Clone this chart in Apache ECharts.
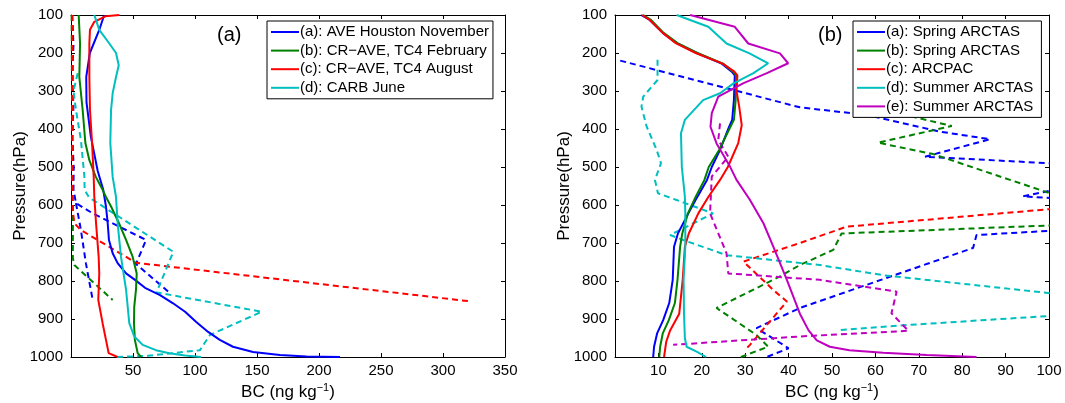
<!DOCTYPE html>
<html>
<head>
<meta charset="utf-8">
<script src="https://cdn.jsdelivr.net/npm/echarts@6/dist/echarts.min.js"></script>
<style>
  html, body { margin: 0; padding: 0; background: #fff; }
  #chart { width: 1065px; height: 403px; }
</style>
</head>
<body>
<div id="chart"></div>
<script>
// ---- Panel (a): observed profiles [BC, pressure] ----
const aAveHouston = [[26.8,100],[22.7,140],[15.2,200],[12.3,263],[12.5,330],[16,420],[21.5,510],[26,560],[28.2,604],[29.6,648],[30.6,692],[33.6,727],[37.6,753],[44.4,780],[51.6,797],[59.7,818],[71.8,837],[82,858],[92,881],[101,908],[110.6,934],[120,955],[130.6,973],[146.8,987],[168.5,995],[190,998.5],[217,1000]];
const aCrAveFeb = [[6.2,100],[7.3,175],[6.7,263],[9.4,350],[11.6,437],[14.8,482],[20,526],[25.5,560],[28.2,579],[32.3,604],[38.7,648],[44.4,692],[49.7,736],[53,780],[52.4,823],[51,868],[50.8,911],[51.5,955],[53.8,990],[56.5,1000]];
const aCrAveAug = [[39,100],[28,103],[18.8,118],[15.3,139],[14.8,175],[14.8,263],[15.3,350],[17,437],[18.3,526],[18.8,579],[20.2,648],[22.3,736],[22.8,780],[22,850],[25.5,911],[28.2,955],[30.4,990],[37.6,1000]];
const aCarbJune = [[18.8,100],[22.8,139],[30.9,175],[36.3,200],[38.5,232],[36.3,263],[33.6,306],[32.3,350],[31.7,437],[33.6,526],[36.3,579],[37.6,648],[40.3,736],[44.4,823],[47,911],[51,946],[57.8,968],[68.5,982],[79.3,990],[92,996],[105,1000]];

// ---- Panel (a): model profiles (dashed) ----
const aAveHoustonModel = [[1,100],[2,180],[0.8,260],[2,340],[1,420],[2.2,500],[2,560],[4,595],[17.5,622],[60.5,692],[52.4,755],[79.8,832]];
const aAveHoustonModelLow = [[4,595],[8,666],[12,753],[17.5,850]];
const aCrAveFebModel = [[0.5,100],[0.8,300],[1,450],[1.5,600],[1.5,740],[2.7,758],[33.6,850]];
const aCrAveAugModel = [[1,100],[1.5,250],[1.5,380],[0.8,500],[1.4,613],[2.7,648],[8,666],[52.4,752],[323,854]];
const aCarbJuneModel = [[5.4,253],[2,300],[4,350],[8,429],[10.8,525],[11,560],[14.5,580],[82.5,723],[69,830],[153.8,881],[112,942],[104,982],[62,997],[36,1000]];

// ---- Panel (b): observed profiles [BC, pressure] ----
const bSpringA = [[6,100],[8,113],[11,147],[14.2,174],[18.8,200],[24.6,228],[26.9,249],[27.6,259],[27.4,324],[27,376],[26.3,394],[24.2,455],[22.3,500],[21.2,534],[19,578],[16.9,622],[14.5,675],[13.6,710],[13.3,797],[12.5,858],[11.1,903],[9.7,938],[9,973],[8.8,1000]];
const bSpringB = [[6.5,100],[8.3,113],[11.2,147],[14.4,174],[19,200],[24.9,228],[27.2,249],[27.9,259],[27.8,324],[27.4,376],[26.6,394],[24,455],[21.6,500],[20.6,534],[18.6,578],[16.8,622],[15.5,675],[15,710],[14.4,797],[13.8,858],[12.4,903],[11,938],[10.4,973],[10.2,1000]];
const bArcpac = [[6.3,100],[8,113],[11,147],[14,174],[18.6,200],[24.8,228],[27.5,249],[28.2,259],[28,300],[28.6,340],[29.2,390],[28.4,437],[26,500],[24.2,534],[21.5,579],[19.2,622],[17,675],[16.1,710],[15.6,797],[14.8,886],[12.7,930],[11.8,960],[11.3,1000]];
const bSummerD = [[14.2,100],[21.5,131],[25.7,175],[31,201],[35.3,227],[31.9,253],[27.3,280],[24.2,306],[20.3,324],[16.1,376],[15.2,411],[15.4,500],[16.1,578],[16.2,622],[16.2,710],[15.8,797],[15.9,886],[16.1,950],[16.5,973],[18.8,986],[21,1000]];
const bSummerE = [[17.3,100],[27.6,131],[30.7,175],[38,201],[39.9,227],[35,253],[29.5,280],[23.8,315],[22.3,358],[22,394],[23.4,438],[26.5,499],[28,534],[31,585],[34.2,648],[36.5,710],[39.6,797],[42.6,886],[44.6,930],[46.5,956],[49.5,973],[54,982],[61.8,989],[71.8,995],[83.3,1000]];

// ---- Panel (b): model profiles (dashed) ----
const bSpringAModel = [[1.2,220],[42.6,343],[58,363],[74.9,407],[86.4,427],[71.4,473],[100,490],[125,505],[94,577],[125,600],[120,655],[83.3,679],[82.5,713],[42.6,871],[32.6,924],[40,977],[35,1000]];
const bSpringBModel = [[62,330],[68.7,368],[77.6,392],[60.6,436],[73.3,466],[100.2,569],[112,610],[100,654],[52.2,675],[50.3,718],[42.6,758],[38,788],[23.4,871],[32.6,942],[35.3,973],[29,1000]];
const bArcpacModel = [[140,571],[100,611],[53.4,657],[42.6,700],[29.6,749],[36.5,824],[39.6,854],[31.1,968],[30.5,975]];
const bSummerDModel = [[9.8,218],[9.8,271],[6.5,315],[6.1,341],[7.3,394],[9.6,455],[10.6,490],[9.2,534],[9.9,569],[14.2,587],[22.6,622],[12.7,679],[15.7,692],[25.7,732],[47.2,758],[62,785],[100.2,832],[115,860],[100,892],[67.2,916],[51.8,929]];
const bSummerEModel = [[24.2,385],[23.8,429],[26.1,473],[22.3,525],[21.9,622],[25.7,727],[26.1,780],[47.2,797],[64.9,828],[63.7,885],[67.6,931],[42.6,946],[13.4,968]];

// ---- Legends and axes ----
const legendA = ['(a): AVE Houston November', '(b): CR\u2212AVE, TC4 February', '(c): CR\u2212AVE, TC4 August', '(d): CARB June'];
const legendB = ['(a): Spring ARCTAS', '(b): Spring ARCTAS ', '(c): ARCPAC', '(d): Summer ARCTAS', '(e): Summer ARCTAS '];
const pressureTicks = { min: 100, max: 1000, interval: 100 };
const bcTicksA = { min: 0, max: 350, interval: 50 };
const bcTicksB = { min: 0, max: 100, interval: 10 };

const BLUE = '#0000ff', GREEN = '#008000', RED = '#ff0000', CYAN = '#00bfbf', MAGENTA = '#bf00bf';
const FONT = "'Liberation Sans', Arial, Helvetica, sans-serif";

function prof(name, data, color, dashed, panel) {
  return {
    type: 'line', name: name, data: data,
    xAxisIndex: panel * 2, yAxisIndex: panel * 2,
    symbol: 'none', showSymbol: false, clip: true,
    lineStyle: { color: color, width: 2, type: dashed ? [6, 4] : 'solid' },
    itemStyle: { color: color },
    emphasis: { disabled: true },
    z: dashed ? 2 : 3
  };
}

const plain = function (v) { return String(v); };

function xAxes(grid, ticks) {
  const common = {
    type: 'value', gridIndex: grid, min: ticks.min, max: ticks.max, interval: ticks.interval,
    splitLine: { show: false },
    axisLine: { show: true, onZero: false, lineStyle: { color: '#000', width: 1 } },
    axisTick: { show: true, inside: true, length: 4, lineStyle: { color: '#000' } }
  };
  return [
    Object.assign({}, common, {
      position: 'bottom',
      axisLabel: { show: true, showMinLabel: false, color: '#000', fontSize: 15, fontFamily: FONT, margin: 6, formatter: plain },
      name: '{t|BC (ng kg}{s|\u22121}{t|)}', nameLocation: 'middle', nameGap: 25, nameMoveOverlap: false,
      nameTextStyle: { rich: {
        t: { fontSize: 17, fontFamily: FONT, color: '#000', lineHeight: 20 },
        s: { fontSize: 11, fontFamily: FONT, color: '#000', verticalAlign: 'top', lineHeight: 12 }
      } }
    }),
    Object.assign({}, common, { position: 'top', axisLabel: { show: false } })
  ];
}

function yAxes(grid) {
  const common = {
    type: 'value', gridIndex: grid, inverse: true,
    min: pressureTicks.min, max: pressureTicks.max, interval: pressureTicks.interval,
    splitLine: { show: false },
    axisLine: { show: true, onZero: false, lineStyle: { color: '#000', width: 1 } },
    axisTick: { show: true, inside: true, length: 4, lineStyle: { color: '#000' } }
  };
  return [
    Object.assign({}, common, {
      position: 'left',
      axisLabel: { show: true, color: '#000', fontSize: 15, fontFamily: FONT, margin: 8, formatter: plain },
      name: 'Pressure(hPa)', nameLocation: 'middle', nameGap: 42, nameRotate: 90, nameMoveOverlap: false,
      nameTextStyle: { fontSize: 17, fontFamily: FONT, color: '#000' }
    }),
    Object.assign({}, common, { position: 'right', axisLabel: { show: false } })
  ];
}

function legend(names, left) {
  return {
    data: names, orient: 'vertical', left: left, top: 21,
    icon: 'rect', itemWidth: 28, itemHeight: 2, itemGap: 3.6,
    padding: [3.5, 4, 3.5, 4],
    backgroundColor: '#fff', borderColor: '#000', borderWidth: 1,
    textStyle: { fontSize: 15, lineHeight: 15, fontFamily: FONT, color: '#000', padding: [0, 0, 0, -4] },
    selectedMode: false, z: 10
  };
}

const chart = echarts.init(document.getElementById('chart'), null, { renderer: 'canvas' });
chart.setOption({
  animation: false,
  backgroundColor: '#fff',
  title: [
    { text: '(a)', left: 217, top: 25, padding: 0, textStyle: { fontSize: 20, fontWeight: 'normal', fontFamily: FONT, color: '#000' } },
    { text: '(b)', left: 818, top: 25, padding: 0, textStyle: { fontSize: 20, fontWeight: 'normal', fontFamily: FONT, color: '#000' } }
  ],
  grid: [
    { left: 71, top: 15, width: 434, height: 342, outerBoundsMode: 'none', containLabel: false },
    { left: 615, top: 15, width: 434, height: 342, outerBoundsMode: 'none', containLabel: false }
  ],
  xAxis: [].concat(xAxes(0, bcTicksA), xAxes(1, bcTicksB)),
  yAxis: [].concat(yAxes(0), yAxes(1)),
  legend: [legend(legendA, 267), legend(legendB, 853)],
  series: [
    prof('a-model-1', aAveHoustonModel, BLUE, true, 0),
    prof('a-model-1b', aAveHoustonModelLow, BLUE, true, 0),
    prof('a-model-2', aCrAveFebModel, GREEN, true, 0),
    prof('a-model-3', aCrAveAugModel, RED, true, 0),
    prof('a-model-4', aCarbJuneModel, CYAN, true, 0),
    prof(legendA[0], aAveHouston, BLUE, false, 0),
    prof(legendA[1], aCrAveFeb, GREEN, false, 0),
    prof(legendA[2], aCrAveAug, RED, false, 0),
    prof(legendA[3], aCarbJune, CYAN, false, 0),

    prof('b-model-1', bSpringAModel, BLUE, true, 1),
    prof('b-model-2', bSpringBModel, GREEN, true, 1),
    prof('b-model-3', bArcpacModel, RED, true, 1),
    prof('b-model-4', bSummerDModel, CYAN, true, 1),
    prof('b-model-5', bSummerEModel, MAGENTA, true, 1),
    prof(legendB[0], bSpringA, BLUE, false, 1),
    prof(legendB[1], bSpringB, GREEN, false, 1),
    prof(legendB[2], bArcpac, RED, false, 1),
    prof(legendB[3], bSummerD, CYAN, false, 1),
    prof(legendB[4], bSummerE, MAGENTA, false, 1)
  ]
});
</script>
</body>
</html>
